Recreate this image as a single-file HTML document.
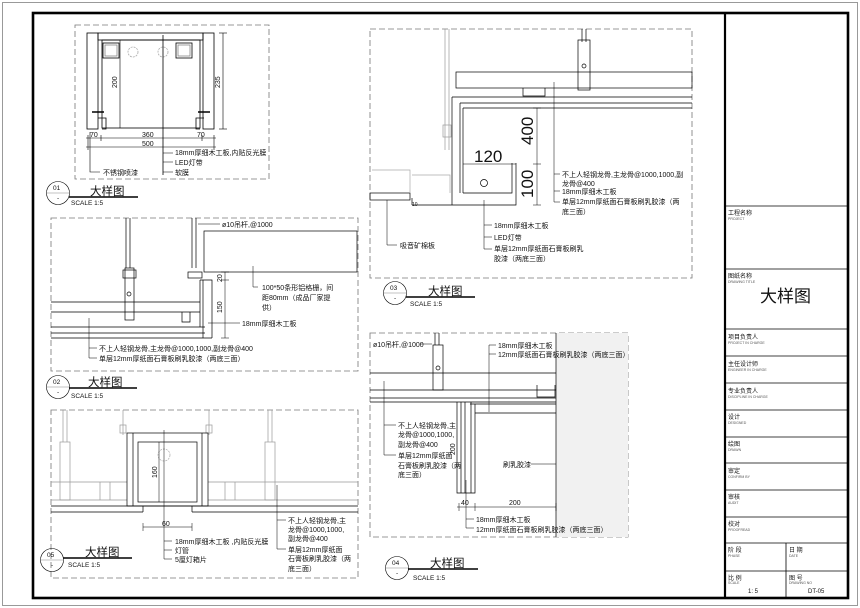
<!DOCTYPE html>
<html><head><meta charset="utf-8"><style>
html,body{margin:0;padding:0;background:#fff;}
svg{display:block;}
text{font-family:"Liberation Sans","Noto Sans CJK SC",sans-serif;fill:#111;}
.s{font-size:7px;}
.t{font-size:11.5px;}
.sc{font-size:6.5px;}
.tb{font-size:6px;}
.tbs{font-size:3.5px;fill:#555;}
</style></head><body>
<svg width="860" height="608" viewBox="0 0 860 608" xmlns="http://www.w3.org/2000/svg">
<g fill="none" stroke="#000" stroke-width="0.8">
<rect x="2.5" y="2.5" width="855" height="603" stroke="#999" stroke-width="1"/>
<rect x="33" y="13" width="815" height="585" stroke-width="2.6"/>
<line x1="725" y1="13" x2="725" y2="598" stroke-width="2.2"/>
<!-- title block lines -->
<g stroke-width="0.8">
<line x1="725" y1="206" x2="848" y2="206"/>
<line x1="725" y1="269" x2="848" y2="269"/>
<line x1="725" y1="329" x2="848" y2="329"/>
<line x1="725" y1="356" x2="848" y2="356"/>
<line x1="725" y1="383" x2="848" y2="383"/>
<line x1="725" y1="410" x2="848" y2="410"/>
<line x1="725" y1="437" x2="848" y2="437"/>
<line x1="725" y1="463" x2="848" y2="463"/>
<line x1="725" y1="490" x2="848" y2="490"/>
<line x1="725" y1="517" x2="848" y2="517"/>
<line x1="725" y1="543" x2="848" y2="543"/>
<line x1="725" y1="571" x2="848" y2="571"/>
<line x1="786" y1="543" x2="786" y2="598"/>
</g>
<!-- dashed boxes -->
<g stroke="#777" stroke-dasharray="6,3" stroke-width="0.8">
<rect x="75" y="25" width="194" height="154"/>
<rect x="51" y="218" width="307" height="153"/>
<rect x="370" y="29" width="322" height="249"/>
<rect x="370" y="333" width="258" height="204"/>
<rect x="51" y="410" width="307" height="168"/>
</g>
</g>

<!-- ===== Detail 01 ===== -->
<g fill="none" stroke="#000" stroke-width="0.8">
<rect x="87" y="33" width="11" height="96"/>
<rect x="203" y="33" width="11" height="96"/>
<rect x="98" y="33" width="105" height="7"/>
<rect x="102" y="40" width="98" height="88"/>
<rect x="103" y="43" width="16" height="15"/>
<rect x="105" y="45" width="12" height="11" stroke="#888"/>
<rect x="176" y="43" width="16" height="15"/>
<rect x="178" y="45" width="12" height="11" stroke="#888"/>
<circle cx="133" cy="52" r="5" stroke="#aaa" stroke-dasharray="2,1"/>
<circle cx="163" cy="52" r="5" stroke="#aaa" stroke-dasharray="2,1"/>
<path d="M98 118 h8 v11 h-4 M204 118 h-8 v11 h4"/>
<path d="M92 112 h12 M198 112 h12" stroke-width="1.4"/>
<line x1="163" y1="35" x2="163" y2="175"/>
<line x1="120" y1="40" x2="120" y2="128" stroke-width="0.6"/>
<line x1="223" y1="33" x2="223" y2="129" stroke-width="0.6"/>
<line x1="219" y1="33" x2="227" y2="33" stroke-width="0.6"/>
<line x1="219" y1="129" x2="227" y2="129" stroke-width="0.6"/>
<line x1="86" y1="138" x2="216" y2="138" stroke-width="0.6"/>
<line x1="86" y1="147" x2="216" y2="147" stroke-width="0.6"/>
<path d="M88 135v15 M101 135v6 M202 135v6 M214 135v15" stroke-width="0.6"/>
<path d="M90 132 V172 H100 M163 153 H173 M163 162 H173 M163 172 H173" stroke-width="0.6"/>
</g>
<text class="s" transform="translate(117,88) rotate(-90)">200</text>
<text class="s" transform="translate(220,88) rotate(-90)">235</text>
<text class="s" x="90" y="137">70</text>
<text class="s" x="142" y="137">360</text>
<text class="s" x="197" y="137">70</text>
<text class="s" x="142" y="146">500</text>
<text class="s" x="175" y="155">18mm厚细木工板,内贴反光膜</text>
<text class="s" x="175" y="165">LED灯带</text>
<text class="s" x="175" y="175">软膜</text>
<text class="s" x="103" y="175">不锈钢喷漆</text>

<!-- ===== Detail 02 ===== -->
<g fill="none" stroke="#000" stroke-width="0.7">
<path d="M126 218 V268 M130 218 V268 M192 218 V268 M196 218 V268"/>
<rect x="125" y="268" width="9" height="52"/>
<rect x="123" y="270" width="13" height="8"/>
<circle cx="129" cy="294" r="2"/>
<rect x="188" y="272" width="14" height="6"/>
<rect x="204" y="231" width="153" height="41"/>
<path d="M51 302 H200 M51 312 H200 M51 327 H205 M51 333 H205 M51 338 H212"/>
<path d="M200 280 H212 V338 M203 280 V338 M200 280 V327"/>
<path d="M182 312 v10 h8 v-10" />
<line x1="225" y1="272" x2="225" y2="338" stroke-width="0.5"/>
<path d="M221 272h8 M221 280h8 M221 338h8" stroke-width="0.5"/>
<path d="M198 224 H220 M253 266 V287 H258 M208 323 H240 M89 318 V358 H97 M89 348 H97" stroke-width="0.5"/>
</g>
<text class="s" x="222" y="227">ø10吊杆,@1000</text>
<text class="s" x="262" y="290">100*50条形铝格栅，间</text>
<text class="s" x="262" y="300">距80mm（成品厂家提</text>
<text class="s" x="262" y="310">供）</text>
<text class="s" x="242" y="326">18mm厚细木工板</text>
<text class="s" transform="translate(222,282) rotate(-90)">20</text>
<text class="s" transform="translate(222,313) rotate(-90)">150</text>
<text class="s" x="99" y="351">不上人轻钢龙骨,主龙骨@1000,1000,副龙骨@400</text>
<text class="s" x="99" y="361">单层12mm厚纸面石膏板刷乳胶漆（两底三面）</text>

<!-- ===== Detail 03 ===== -->
<g fill="none" stroke="#000" stroke-width="0.7">
<path d="M445 29 V150 M449 29 V150" stroke="#999"/>
<rect x="443" y="125" width="8" height="12" stroke="#999"/>
<rect x="456" y="72" width="236" height="16"/>
<path d="M523 88 v8 h22 v-8"/>
<path d="M582 29 V42 M586 29 V42"/>
<rect x="578" y="40" width="12" height="50"/>
<circle cx="584" cy="66" r="2"/>
<path d="M452 97 H692 M460 103 H692 M463 108 H692"/>
<path d="M452 97 V205 M460 103 V193 M463 108 V193"/>
<path d="M412 205 H516 V163 M463 193 H512 V163 M412 198 V205"/>
<rect x="370" y="193" width="40" height="7"/>
<path d="M372 170 h38 v23 M412 175 h38 v18" stroke="#aaa"/>
<circle cx="484" cy="183" r="3.5"/>
<line x1="537" y1="108" x2="537" y2="205" stroke-width="0.5"/>
<path d="M533 108h8 M533 164h8 M533 205h8" stroke-width="0.5"/>
<line x1="463" y1="164" x2="516" y2="164" stroke-width="0.5"/>
<path d="M554 82 V202 M554 174 H560 M554 191 H560 M554 202 H560 M484 200 V249 H492 M484 225 H492 M484 237 H492 M387 200 V245 H397" stroke-width="0.5"/>
</g>
<text transform="translate(533,145) rotate(-90)" style="font-size:17px">400</text>
<text transform="translate(533,198) rotate(-90)" style="font-size:17px">100</text>
<text x="474" y="162" style="font-size:17px">120</text>
<text class="s" x="562" y="177">不上人轻钢龙骨,主龙骨@1000,1000,副</text>
<text class="s" x="562" y="186">龙骨@400</text>
<text class="s" x="562" y="194">18mm厚细木工板</text>
<text class="s" x="562" y="204">单层12mm厚纸面石膏板刷乳胶漆（两</text>
<text class="s" x="562" y="214">底三面）</text>
<text class="s" x="494" y="228">18mm厚细木工板</text>
<text class="s" x="494" y="240">LED灯带</text>
<text class="s" x="494" y="251">单层12mm厚纸面石膏板刷乳</text>
<text class="s" x="494" y="261">胶漆（两底三面）</text>
<text class="s" x="400" y="248">吸音矿棉板</text>
<text class="s" x="412" y="206" style="font-size:5px">10</text>

<!-- ===== Detail 04 ===== -->
<rect x="556" y="333" width="72" height="204" fill="#f1f1f1"/>
<g fill="none" stroke="#000" stroke-width="0.7">
<path d="M435 333 V345 M439 333 V345"/>
<rect x="433" y="345" width="10" height="45"/>
<circle cx="438" cy="368" r="2"/>
<path d="M370 373 H556 M370 390 H556 M537 385 v12 h18 v-12"/>
<path d="M370 398 H556 M370 402 H556 M470 404 H556 M475 413 H556"/>
<path d="M457 402 V493 H475 V404 M461 402 V493 M465 402 V493 M471 402 V493"/>
<line x1="556" y1="333" x2="556" y2="537"/>
<path d="M457 507 H556 M459 503 v8 M475 503 v8 M556 503 v8" stroke-width="0.5"/>
<path d="M432 344 H420 M489 345 V412 M489 345 H496 M489 354 H496 M384 381 V455 M384 425 H396 M384 455 H396 M466 480 V528 H474 M466 519 H474 M531 464 H556" stroke-width="0.5"/>
</g>
<text class="s" x="373" y="347">ø10吊杆,@1000</text>
<text class="s" x="498" y="348">18mm厚细木工板</text>
<text class="s" x="498" y="357">12mm厚纸面石膏板刷乳胶漆（两底三面）</text>
<text class="s" x="398" y="428">不上人轻钢龙骨,主</text>
<text class="s" x="398" y="437">龙骨@1000,1000,</text>
<text class="s" x="398" y="447">副龙骨@400</text>
<text class="s" x="398" y="458">单层12mm厚纸面</text>
<text class="s" x="398" y="468">石膏板刷乳胶漆（两</text>
<text class="s" x="398" y="477">底三面）</text>
<text class="s" x="503" y="467">刷乳胶漆</text>
<text class="s" transform="translate(455,455) rotate(-90)">200</text>
<text class="s" x="461" y="505">40</text>
<text class="s" x="509" y="505">200</text>
<text class="s" x="476" y="522">18mm厚细木工板</text>
<text class="s" x="476" y="532">12mm厚纸面石膏板刷乳胶漆（两底三面）</text>

<!-- ===== Detail 05 ===== -->
<g fill="none" stroke="#000" stroke-width="0.7">
<g stroke="#999">
<path d="M63 410 V442 M67 410 V442 M123 410 V435 M209 410 V435 M268 410 V442 M272 410 V442"/>
<rect x="60" y="442" width="10" height="58"/>
<rect x="265" y="442" width="10" height="58"/>
<rect x="120" y="425" width="6" height="8"/>
<rect x="206" y="425" width="6" height="8"/>
<path d="M51 482 H127 M208 482 H358 M51 500 H127 M208 500 H358"/>
<path d="M100 482 v18 M110 482 v18 M225 482 v18 M235 482 v18"/>
</g>
<rect x="127" y="433" width="81" height="73"/>
<rect x="138" y="442" width="59" height="60"/>
<path d="M133 433 V506 M202 433 V506"/>
<path d="M51 506 H143 V512 M51 512 H143 M192 506 H358 M192 512 H358 M192 506 V512 M143 506 H192"/>
<circle cx="164" cy="455" r="6" stroke="#aaa" stroke-dasharray="2,1"/>
<line x1="159" y1="442" x2="159" y2="502" stroke-width="0.5"/>
<path d="M143 527 H192 M143 523 v8 M192 523 v8" stroke-width="0.5"/>
<path d="M164 430 V559 M164 541 H172 M164 550 H172 M164 559 H172 M277 485 V549 M277 520 H286 M277 549 H286" stroke-width="0.5"/>
</g>
<text class="s" transform="translate(157,478) rotate(-90)">160</text>
<text class="s" x="162" y="526">60</text>
<text class="s" x="175" y="544">18mm厚细木工板 ,内贴反光膜</text>
<text class="s" x="175" y="553">灯管</text>
<text class="s" x="175" y="562">5厘灯箱片</text>
<text class="s" x="288" y="523">不上人轻钢龙骨,主</text>
<text class="s" x="288" y="532">龙骨@1000,1000,</text>
<text class="s" x="288" y="541">副龙骨@400</text>
<text class="s" x="288" y="552">单层12mm厚纸面</text>
<text class="s" x="288" y="561">石膏板刷乳胶漆（两</text>
<text class="s" x="288" y="571">底三面）</text>

<!-- ===== Labels ===== -->
<g fill="none" stroke="#000" stroke-width="0.6">
<circle cx="58" cy="193" r="11.5"/><line x1="46.5" y1="193" x2="69.5" y2="193" stroke="#888"/>
<line x1="69" y1="197" x2="138" y2="197" stroke-width="1.4"/>
<circle cx="58" cy="387" r="11.5"/><line x1="46.5" y1="387" x2="69.5" y2="387" stroke="#888"/>
<line x1="69" y1="388" x2="137" y2="388" stroke-width="1.4"/>
<circle cx="395" cy="293" r="11.5"/><line x1="383.5" y1="293" x2="406.5" y2="293" stroke="#888"/>
<line x1="406" y1="297" x2="475" y2="297" stroke-width="1.4"/>
<circle cx="397" cy="568" r="11.5"/><line x1="385.5" y1="568" x2="408.5" y2="568" stroke="#888"/>
<line x1="408" y1="569" x2="478" y2="569" stroke-width="1.4"/>
<circle cx="52" cy="560" r="11.5"/><line x1="40.5" y1="560" x2="63.5" y2="560" stroke="#888"/>
<line x1="63" y1="558" x2="132" y2="558" stroke-width="1.4"/>
</g>
<text class="sc" x="53" y="190">01</text><text class="sc" x="57" y="200">-</text>
<text class="t" x="90" y="195">大样图</text><text class="sc" x="71" y="205">SCALE 1:5</text>
<text class="sc" x="53" y="384">02</text><text class="sc" x="57" y="394">-</text>
<text class="t" x="88" y="386">大样图</text><text class="sc" x="71" y="398">SCALE 1:5</text>
<text class="sc" x="390" y="290">03</text><text class="sc" x="394" y="300">-</text>
<text class="t" x="428" y="295">大样图</text><text class="sc" x="410" y="306">SCALE 1:5</text>
<text class="sc" x="392" y="565">04</text><text class="sc" x="396" y="575">-</text>
<text class="t" x="430" y="567">大样图</text><text class="sc" x="413" y="580">SCALE 1:5</text>
<text class="sc" x="47" y="557">05</text><text class="sc" x="51" y="567">-</text>
<text class="t" x="85" y="556">大样图</text><text class="sc" x="68" y="567">SCALE 1:5</text>

<!-- ===== Title block text ===== -->
<text class="tb" x="728" y="215">工程名称</text><text class="tbs" x="728" y="220">PROJECT</text>
<text class="tb" x="728" y="278">图纸名称</text><text class="tbs" x="728" y="283">DRAWING TITLE</text>
<text x="760" y="302" style="font-size:17px">大样图</text>
<text class="tb" x="728" y="339">项目负责人</text><text class="tbs" x="728" y="344">PROJECT IN CHARGE</text>
<text class="tb" x="728" y="366">主任设计师</text><text class="tbs" x="728" y="371">ENGINEER IN CHARGE</text>
<text class="tb" x="728" y="393">专业负责人</text><text class="tbs" x="728" y="398">DISCIPLINE IN CHARGE</text>
<text class="tb" x="728" y="419">设计</text><text class="tbs" x="728" y="424">DESIGNED</text>
<text class="tb" x="728" y="446">绘图</text><text class="tbs" x="728" y="451">DRAWN</text>
<text class="tb" x="728" y="473">审定</text><text class="tbs" x="728" y="478">CONFIRM BY</text>
<text class="tb" x="728" y="499">审核</text><text class="tbs" x="728" y="504">AUDIT</text>
<text class="tb" x="728" y="526">校对</text><text class="tbs" x="728" y="531">PROOFREAD</text>
<text class="tb" x="728" y="552">阶 段</text><text class="tbs" x="728" y="557">PHASE</text>
<text class="tb" x="789" y="552">日 期</text><text class="tbs" x="789" y="557">DATE</text>
<text class="tb" x="728" y="580">比 例</text><text class="tbs" x="728" y="584">SCALE</text>
<text class="tb" x="748" y="593">1: 5</text>
<text class="tb" x="789" y="580">图 号</text><text class="tbs" x="789" y="584">DRAWING NO</text>
<text class="tb" x="808" y="593">DT-05</text>
</svg>
</body></html>
